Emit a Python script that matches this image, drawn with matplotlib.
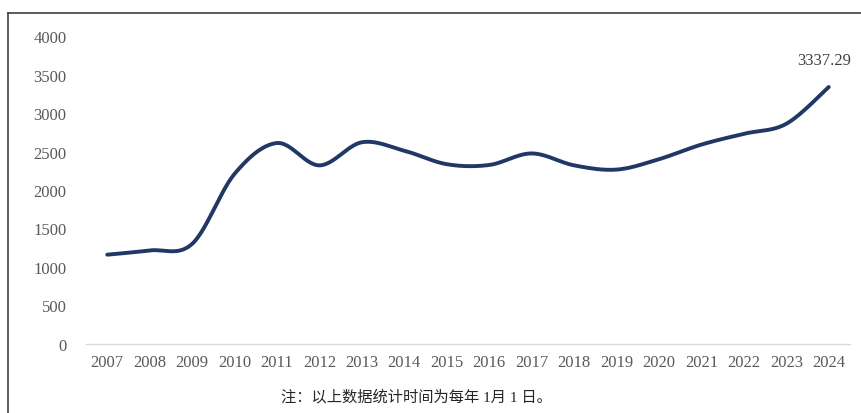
import numpy as np
import matplotlib.pyplot as plt
from matplotlib.lines import Line2D

years = ['2007', '2008', '2009', '2010', '2011', '2012', '2013', '2014', '2015',
         '2016', '2017', '2018', '2019', '2020', '2021', '2022', '2023', '2024']
values = [1160, 1215, 1300, 2210, 2610, 2320, 2620, 2510, 2335,
          2325, 2475, 2320, 2265, 2400, 2590, 2730, 2860, 3337.29]
y_ticks = [0, 500, 1000, 1500, 2000, 2500, 3000, 3500, 4000]
last_label = '3337.29'
note = '注：以上数据统计时间为每年 1月 1 日。'

plt.rcParams['font.family'] = ['Liberation Serif', 'Noto Sans CJK SC']


def smooth(xs, ys, n=30):
    # Catmull-Rom style bezier, like a "smoothed line" in a spreadsheet chart
    xs = np.asarray(xs, float)
    ys = np.asarray(ys, float)
    px = np.concatenate([[xs[0]], xs, [xs[-1]]])
    py = np.concatenate([[ys[0]], ys, [ys[-1]]])
    out_x, out_y = [], []
    t = np.linspace(0, 1, n)
    for i in range(1, len(px) - 2):
        p0 = np.array([px[i], py[i]])
        p3 = np.array([px[i + 1], py[i + 1]])
        c1 = p0 + (np.array([px[i + 1], py[i + 1]]) - np.array([px[i - 1], py[i - 1]])) / 6
        c2 = p3 - (np.array([px[i + 2], py[i + 2]]) - np.array([px[i], py[i]])) / 6
        b = ((1 - t) ** 3)[:, None] * p0 + (3 * (1 - t) ** 2 * t)[:, None] * c1 \
            + (3 * (1 - t) * t ** 2)[:, None] * c2 + (t ** 3)[:, None] * p3
        out_x.extend(b[:, 0])
        out_y.extend(b[:, 1])
    return out_x, out_y


fig = plt.figure(figsize=(8.61, 4.14), dpi=100)
ax = fig.add_axes([0.0999, 0.1667, 0.8873, 0.7439])

x = np.arange(len(years))
sx, sy = smooth(x, values)
ax.plot(sx, sy, color='#1f3864', lw=2.8, solid_capstyle='round')

ax.set_xlim(-0.5, len(years) - 0.5)
ax.set_ylim(0, 4000)
ax.set_xticks(x)
ax.set_xticklabels(years)
ax.set_yticks(y_ticks)
ax.tick_params(axis='x', length=0, pad=7, labelsize=12, labelcolor='#595959')
ax.tick_params(axis='y', length=0, pad=14, labelsize=12, labelcolor='#595959')
for s in ['top', 'right', 'left']:
    ax.spines[s].set_visible(False)
ax.spines['bottom'].set_color('#d9d9d9')
ax.spines['bottom'].set_linewidth(1.0)

ax.annotate(last_label, (x[-1], values[-1]), xytext=(-3, 14), textcoords='offset points',
            ha='center', va='bottom', fontsize=12, color='#404040')

fig.text(0.484, 0.041, note, ha='center', va='center', fontsize=11, color='#262626')

# outer frame
fig.add_artist(Line2D([8 / 861, 8 / 861], [0, 1 - 14 / 414], color='#404040', lw=1.2))
fig.add_artist(Line2D([8 / 861, 1], [1 - 14 / 414, 1 - 14 / 414], color='#404040', lw=1.2))

fig.savefig('out.png', dpi=100)
